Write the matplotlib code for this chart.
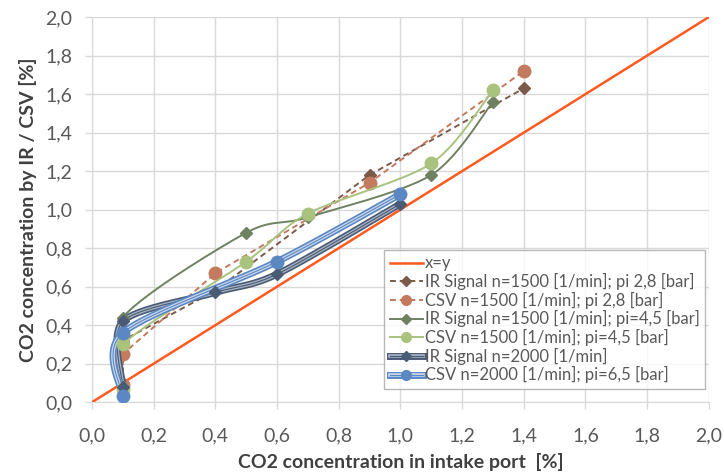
import numpy as np
import matplotlib
matplotlib.use("Agg")
import matplotlib.pyplot as plt
import matplotlib.patheffects as pe
from matplotlib.lines import Line2D
from matplotlib.legend_handler import HandlerTuple
from matplotlib.ticker import FuncFormatter, MultipleLocator

# ---- data ----
xy_line = [0.0, 2.0]

ir_1500_28_x = [0.1, 0.1, 0.4, 0.9, 1.4]
ir_1500_28_y = [0.10, 0.32, 0.58, 1.18, 1.63]

csv_1500_28_x = [0.1, 0.1, 0.4, 0.9, 1.4]
csv_1500_28_y = [0.09, 0.25, 0.67, 1.14, 1.72]

ir_1500_45_x = [0.1, 0.1, 0.5, 0.7, 1.1, 1.3]
ir_1500_45_y = [0.08, 0.44, 0.88, 0.96, 1.18, 1.56]

csv_1500_45_x = [0.1, 0.1, 0.5, 0.7, 1.1, 1.3]
csv_1500_45_y = [0.07, 0.30, 0.73, 0.98, 1.24, 1.62]

ir_2000_x = [0.1, 0.1, 0.4, 0.6, 1.0]
ir_2000_y = [0.08, 0.42, 0.57, 0.665, 1.03]

csv_2000_x = [0.1, 0.1, 0.6, 1.0]
csv_2000_y = [0.03, 0.36, 0.73, 1.08]

labels = ["x=y",
          "IR Signal n=1500 [1/min]; pi 2,8 [bar]",
          "CSV n=1500 [1/min]; pi 2,8 [bar]",
          "IR Signal n=1500 [1/min]; pi=4,5 [bar]",
          "CSV n=1500 [1/min]; pi=4,5 [bar]",
          "IR Signal n=2000 [1/min]",
          "CSV n=2000 [1/min]; pi=6,5 [bar]"]


def smooth(xs, ys, n=30):
    """Excel-like smoothed line (Bezier through the points)."""
    p = np.column_stack([xs, ys]).astype(float)
    out = [p[0]]
    m = len(p)
    for i in range(m - 1):
        p0 = p[i - 1] if i > 0 else p[i]
        p1 = p[i]
        p2 = p[i + 1]
        p3 = p[i + 2] if i + 2 < m else p[i + 1]
        c1 = p1 + (p2 - p0) / 7.0
        c2 = p2 - (p3 - p1) / 7.0
        t = np.linspace(0, 1, n)[1:, None]
        seg = ((1 - t) ** 3) * p1 + 3 * ((1 - t) ** 2) * t * c1 + 3 * (1 - t) * t ** 2 * c2 + t ** 3 * p2
        out.extend(seg)
    out = np.array(out)
    return out[:, 0], out[:, 1]


plt.rcParams['font.family'] = ['Lato', 'DejaVu Sans']

fig = plt.figure(figsize=(7.24, 4.76), dpi=100)
ax = fig.add_axes([0.127, 0.155, 0.852, 0.809])

c_xy = '#FF5A1E'
c_ir28 = '#7B5A4A'
c_csv28 = '#C47A5E'
c_ir45 = '#6E8262'
c_csv45 = '#A9C27E'
c_ir20 = '#4A5B75'
c_ir20_in = '#A8B3C4'
c_csv20 = '#5B87C2'
c_csv20_in = '#C9D7EC'

eff_ir = [pe.Stroke(linewidth=5, foreground=c_ir20), pe.Stroke(linewidth=2.6, foreground=c_ir20_in), pe.Normal()]
eff_csv = [pe.Stroke(linewidth=5, foreground=c_csv20), pe.Stroke(linewidth=2.6, foreground=c_csv20_in), pe.Normal()]

handles = []

h, = ax.plot(xy_line, xy_line, color=c_xy, lw=1.8, zorder=3)
handles.append(h)

ax.plot(ir_1500_28_x, ir_1500_28_y, color=c_ir28, lw=1.4, ls=(0, (3, 2)),
        marker='D', ms=6, zorder=4)
handles.append(Line2D([], [], color=c_ir28, lw=1.4, ls=(0, (3, 2)), marker='D', ms=5))
ax.plot(csv_1500_28_x, csv_1500_28_y, color=c_csv28, lw=1.4, ls=(0, (3, 2)),
        marker='o', ms=9, zorder=4)
handles.append(Line2D([], [], color=c_csv28, lw=1.4, ls=(0, (3, 2)), marker='o', ms=7))

sx, sy = smooth(ir_1500_45_x, ir_1500_45_y)
ax.plot(sx, sy, color=c_ir45, lw=1.4, zorder=4)
ax.plot(ir_1500_45_x, ir_1500_45_y, ls='none', color=c_ir45, marker='D', ms=6, zorder=5)
handles.append(Line2D([], [], color=c_ir45, lw=1.4, marker='D', ms=5))

sx, sy = smooth(csv_1500_45_x, csv_1500_45_y)
ax.plot(sx, sy, color=c_csv45, lw=1.4, zorder=4)
ax.plot(csv_1500_45_x, csv_1500_45_y, ls='none', color=c_csv45, marker='o', ms=9, zorder=5)
handles.append(Line2D([], [], color=c_csv45, lw=1.4, marker='o', ms=7))

sx, sy = smooth(ir_2000_x, ir_2000_y)
ax.plot(sx, sy, color=c_ir20, lw=0.8, path_effects=eff_ir, zorder=4)
ax.plot(ir_2000_x, ir_2000_y, ls='none', color=c_ir20, marker='D', ms=6, zorder=5)
handles.append((Line2D([], [], color=c_ir20, lw=0.8, path_effects=eff_ir),
                Line2D([], [], ls='none', color=c_ir20, marker='D', ms=5)))

sx, sy = smooth(csv_2000_x, csv_2000_y)
ax.plot(sx, sy, color=c_csv20, lw=0.8, path_effects=eff_csv, zorder=4)
ax.plot(csv_2000_x, csv_2000_y, ls='none', color=c_csv20, marker='o', ms=9, zorder=5)
handles.append((Line2D([], [], color=c_csv20, lw=0.8, path_effects=eff_csv),
                Line2D([], [], ls='none', color=c_csv20, marker='o', ms=7)))

ax.set_xlim(0, 2.0)
ax.set_ylim(0, 2.0)
ax.xaxis.set_major_locator(MultipleLocator(0.2))
ax.yaxis.set_major_locator(MultipleLocator(0.2))
fmt = FuncFormatter(lambda v, p: f"{v:.1f}".replace('.', ','))
ax.xaxis.set_major_formatter(fmt)
ax.yaxis.set_major_formatter(fmt)
ax.grid(True, color='#D9D9D9', lw=1.0)
ax.set_axisbelow(True)
for s in ['top', 'right']:
    ax.spines[s].set_visible(False)
for s in ['left', 'bottom']:
    ax.spines[s].set_color('#D9D9D9')
ax.tick_params(colors='#D9D9D9', labelcolor='#595959', labelsize=14, length=5, width=1)
ax.tick_params(axis='x', pad=13)
ax.tick_params(axis='y', pad=9)
ax.set_xlabel("CO2 concentration in intake port  [%]", fontsize=14, fontweight='bold', color='#404040', labelpad=6)
ax.set_ylabel("CO2 concentration by IR / CSV [%]", fontsize=14, fontweight='bold', color='#404040', labelpad=6)

leg = ax.legend(handles, labels, loc='lower right', bbox_to_anchor=(1.008, 0.012), fontsize=12,
                frameon=True, fancybox=False, edgecolor='#A6A6A6', labelcolor='#595959',
                handlelength=2.0, handletextpad=0.1, borderpad=0.35, labelspacing=0.1,
                handler_map={tuple: HandlerTuple(ndivide=1)})
leg.get_frame().set_linewidth(1.0)

fig.savefig('out.png', dpi=100)
